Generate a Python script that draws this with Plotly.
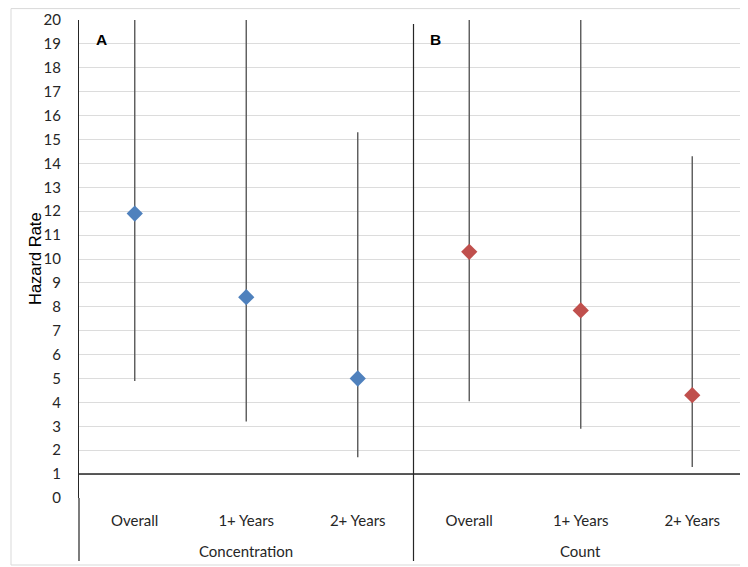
import plotly.graph_objects as go

periods = ["Overall", "1+ Years", "2+ Years"]
groups = ["Concentration", "Count"]
panel_letters = ["A", "B"]

conc_rate = [11.9, 8.4, 5.0]
conc_lower = [4.9, 3.2, 1.7]
conc_upper = [27.0, 24.0, 15.3]   # first two run off the top of the chart

count_rate = [10.3, 7.85, 4.3]
count_lower = [4.05, 2.9, 1.3]
count_upper = [25.0, 22.0, 14.3]  # first two run off the top of the chart

y_ticks = list(range(0, 21))

series = [
    (conc_rate, conc_lower, conc_upper, "#4F81BD"),
    (count_rate, count_lower, count_upper, "#C0504D"),
]

font_cal = "Lato, 'Open Sans', sans-serif"
font_arial = "'Liberation Sans', Arial, sans-serif"
err_color = "#595959"
dark = "#262626"

n = len(periods)
fig = go.Figure()
for g, (rate, lower, upper, color) in enumerate(series):
    xs = [g * n + i for i in range(n)]
    fig.add_trace(go.Scatter(
        x=xs,
        y=rate,
        mode="markers",
        marker=dict(symbol="diamond", size=12.5, color=color, line=dict(width=0)),
        error_y=dict(
            type="data",
            symmetric=False,
            array=[u - r for u, r in zip(upper, rate)],
            arrayminus=[r - l for r, l in zip(rate, lower)],
            color=err_color,
            thickness=1.4,
            width=0,
        ),
        showlegend=False,
        cliponaxis=True,
    ))

# page has an 8px body margin: figure origin is at (8, 8) on screen
OFF = 8
PL, PR, PT, PB = 79, 748, 20, 498  # plot area in screen px
W, H = 748 - OFF, 567 - OFF


def px_x(p):
    return (p - PL) / (PR - PL)


def px_y(p):
    return (PB - p) / (PB - PT)


tick_pos = list(range(len(groups) * n))
tick_txt = periods * len(groups)

shapes = [
    # reference line at hazard rate 1
    dict(type="line", xref="paper", yref="y", x0=0, x1=1, y0=1, y1=1,
         line=dict(color=dark, width=1.5)),
    # left axis extension through category labels
    dict(type="line", xref="paper", yref="paper", x0=0, x1=0, y0=px_y(561), y1=0,
         line=dict(color=dark, width=1.2)),
    # chart border
    dict(type="rect", xref="paper", yref="paper", x0=px_x(11), x1=1.02, y0=px_y(565), y1=px_y(8.6),
         line=dict(color="#D9D9D9", width=1), layer="below"),
]
annotations = [
    dict(text="Hazard Rate", xref="paper", yref="paper", x=px_x(35), y=px_y(259),
         textangle=-90, showarrow=False, xanchor="center", yanchor="middle",
         font=dict(size=16.5, family=font_arial, color="#000000")),
]
for g, name in enumerate(groups):
    first, last = g * n, g * n + n - 1
    if g > 0:
        shapes.append(dict(type="line", xref="x", yref="paper", x0=first - 0.5, x1=first - 0.5,
                           y0=px_y(561), y1=px_y(24), line=dict(color=dark, width=1.2)))
    annotations.append(dict(text=name, xref="x", yref="paper", x=(first + last) / 2, y=px_y(551),
                            showarrow=False, xanchor="center", yanchor="middle",
                            font=dict(size=15, family=font_cal, color=dark)))
    annotations.append(dict(text="<b>%s</b>" % panel_letters[g], xref="x", yref="y",
                            x=first - 0.5 + (101 - PL) / ((PR - PL) / len(tick_pos)), y=19.2,
                            showarrow=False, xanchor="center", yanchor="middle",
                            font=dict(size=15.5, family=font_arial, color="#000000")))

fig.update_layout(
    width=W,
    height=H,
    margin=dict(l=PL - OFF, r=OFF + W - PR, t=PT - OFF, b=OFF + H - PB, autoexpand=False),
    paper_bgcolor="white",
    plot_bgcolor="white",
    font=dict(family=font_cal, color=dark),
    xaxis=dict(
        range=[-0.5, len(tick_pos) - 0.5],
        tickvals=tick_pos,
        ticktext=tick_txt,
        showgrid=False,
        zeroline=False,
        showline=False,
        ticks="",
        ticklabelstandoff=12,
        tickfont=dict(size=15, family=font_cal, color=dark),
        automargin=False,
    ),
    yaxis=dict(
        range=[0, 20],
        tickvals=y_ticks,
        ticktext=[str(v) for v in y_ticks],
        showgrid=True,
        gridcolor="#DCDCDC",
        gridwidth=1,
        zeroline=False,
        showline=True,
        linecolor=dark,
        linewidth=1.2,
        ticks="",
        ticklabelstandoff=14,
        tickfont=dict(size=15, family=font_cal, color=dark),
        automargin=False,
    ),
    shapes=shapes,
    annotations=annotations,
)

fig.write_html("out.html")
